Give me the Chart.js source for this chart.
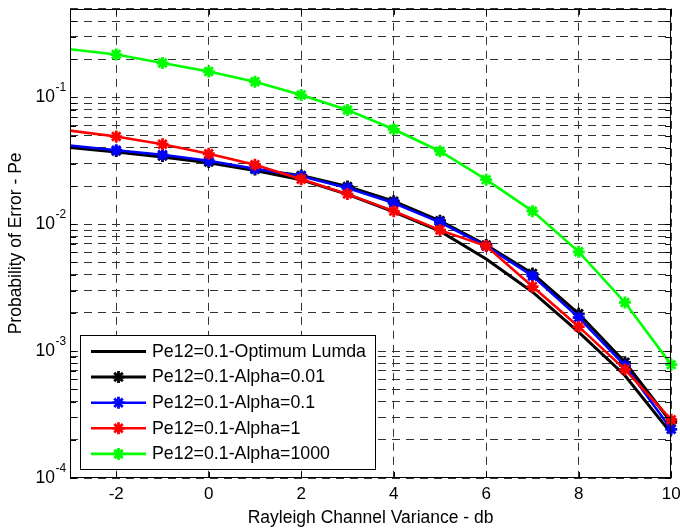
<!DOCTYPE html>
<html><head><meta charset="utf-8">
<script src="https://cdn.jsdelivr.net/npm/chart.js@4/dist/chart.umd.min.js"></script>
<style>html,body{margin:0;padding:0;background:#fff}</style>
</head><body>
<canvas id="c" width="680" height="530"></canvas>
<script>
// ---- data ----
const xValues = [-3,-2,-1,0,1,2,3,4,5,6,7,8,9,10];
const peOptimum   = [0.0403,0.0371,0.0340,0.0305,0.0266,0.0224,0.0172,0.01256,0.00883,0.00532,0.00293,0.00141,0.000643,0.000225];
const peAlpha001  = [0.0410,0.0378,0.0345,0.0310,0.0271,0.0243,0.0199,0.0152,0.01067,0.00686,0.00409,0.00197,0.000817,0.000275];
const peAlpha01   = [0.0418,0.0384,0.0353,0.0317,0.0274,0.0239,0.0193,0.0147,0.01037,0.00673,0.00392,0.00184,0.000769,0.000242];
const peAlpha1    = [0.0548,0.0492,0.0428,0.0360,0.0295,0.0227,0.0173,0.0127,0.0090,0.00673,0.00323,0.00156,0.000716,0.000288];
const peAlpha1000 = [0.240,0.218,0.187,0.160,0.133,0.1045,0.0796,0.0561,0.0377,0.0225,0.0127,0.00607,0.00242,0.000783];
const seriesLabels = ['Pe12=0.1-Optimum Lumda','Pe12=0.1-Alpha=0.01','Pe12=0.1-Alpha=0.1','Pe12=0.1-Alpha=1','Pe12=0.1-Alpha=1000'];
const seriesValues = [peOptimum, peAlpha001, peAlpha01, peAlpha1, peAlpha1000];
const seriesColors = ['#000000','#000000','#0000ff','#ff0000','#00ff00'];
const seriesMarkers = [false,true,true,true,true];
const xTickValues = [-2,0,2,4,6,8,10];
const yMajorExps = [-4,-3,-2,-1];
const xMin = -3, xMax = 10, yMin = 1e-4, yMax = 0.5;
const xTitle = 'Rayleigh Channel Variance - db';
const yTitle = 'Probability of Error - Pe';

// grid values for the log axis: 1..9 x each decade up to yMax
const yGridValues = [];
yMajorExps.forEach(e => { for (let k = 1; k <= 9; k++) { const v = k * Math.pow(10, e); if (v <= yMax * 1.0001) yGridValues.push(v); } });

const FONT = '"Liberation Sans", Arial, Helvetica, sans-serif';

function drawStar(ctx, x, y, r, color, lw) {
  ctx.save();
  ctx.strokeStyle = color; ctx.lineWidth = lw; ctx.lineCap = 'butt';
  ctx.beginPath();
  ctx.moveTo(x, y - r); ctx.lineTo(x, y + r);
  ctx.moveTo(x - r, y); ctx.lineTo(x + r, y);
  const d = r * Math.SQRT1_2;
  ctx.moveTo(x - d, y - d); ctx.lineTo(x + d, y + d);
  ctx.moveTo(x - d, y + d); ctx.lineTo(x + d, y - d);
  ctx.stroke();
  ctx.restore();
}

const framePlugin = {
  id: 'frame',
  afterDraw(chart) {
    const ctx = chart.ctx, a = chart.chartArea;
    const xs = chart.scales.x, ys = chart.scales.y;
    ctx.save();
    // axes box
    ctx.strokeStyle = '#000'; ctx.lineWidth = 1;
    ctx.strokeRect(Math.round(a.left) + 0.5, Math.round(a.top) + 0.5, Math.round(a.right - a.left) - 1, Math.round(a.bottom - a.top) - 1);
    // inner ticks
    ctx.beginPath();
    xTickValues.forEach(v => {
      const px = Math.round(xs.getPixelForValue(v)) + 0.5;
      ctx.moveTo(px, a.bottom); ctx.lineTo(px, a.bottom - 6);
      ctx.moveTo(px, a.top); ctx.lineTo(px, a.top + 6);
    });
    yGridValues.forEach(v => {
      const py = Math.round(ys.getPixelForValue(v)) + 0.5;
      ctx.moveTo(a.left, py); ctx.lineTo(a.left + 6, py);
      ctx.moveTo(a.right, py); ctx.lineTo(a.right - 6, py);
    });
    ctx.stroke();
    // x tick labels
    ctx.fillStyle = '#000';
    ctx.font = '17px ' + FONT; ctx.textAlign = 'center'; ctx.textBaseline = 'middle';
    xTickValues.forEach(v => ctx.fillText(String(v), xs.getPixelForValue(v), 494));
    // y tick labels 10^e
    yMajorExps.forEach(e => {
      const py = ys.getPixelForValue(Math.pow(10, e));
      ctx.font = '17.5px ' + FONT; ctx.textAlign = 'right'; ctx.textBaseline = 'middle';
      ctx.fillText('10', 55, py);
      ctx.font = '12px ' + FONT; ctx.textAlign = 'left';
      ctx.fillText(String(e), 55.5, py - 9.5);
    });
    // axis titles
    ctx.font = '17.5px ' + FONT; ctx.textAlign = 'center'; ctx.textBaseline = 'alphabetic';
    ctx.fillText(xTitle, (a.left + a.right) / 2, 523);
    ctx.save();
    ctx.translate(21, (a.top + a.bottom) / 2);
    ctx.rotate(-Math.PI / 2);
    ctx.fillText(yTitle, 0, 0);
    ctx.restore();
    // legend box
    const lx = 80.5, ly = 335.5, lw = 295, lh = 134;
    ctx.fillStyle = '#fff'; ctx.fillRect(lx, ly, lw, lh);
    ctx.strokeStyle = '#000'; ctx.lineWidth = 1; ctx.strokeRect(lx, ly, lw, lh);
    chart.data.datasets.forEach((ds, i) => {
      const ry = 351.5 + i * 25.6;
      ctx.strokeStyle = ds.borderColor; ctx.lineWidth = ds.borderWidth;
      ctx.beginPath(); ctx.moveTo(91, ry); ctx.lineTo(146, ry); ctx.stroke();
      if (seriesMarkers[i]) drawStar(ctx, 118.5, ry, 6, ds.borderColor, 2.8);
      ctx.fillStyle = '#000'; ctx.font = '17.8px ' + FONT; ctx.textAlign = 'left'; ctx.textBaseline = 'middle';
      ctx.fillText(ds.label, 152, ry + 0.5);
    });
    ctx.restore();
  }
};

const datasets = seriesValues.map((vals, i) => ({
  label: seriesLabels[i],
  data: xValues.map((x, j) => ({ x: x, y: vals[j] })),
  borderColor: seriesColors[i],
  backgroundColor: seriesColors[i],
  borderWidth: i < 2 ? 3 : 2.6,
  pointStyle: 'star',
  pointRadius: ctx => (seriesMarkers[i] && ctx.dataIndex > 0) ? 6 : 0,
  pointBorderWidth: 2.8,
  pointBorderColor: seriesColors[i],
  pointBackgroundColor: seriesColors[i],
  pointHoverRadius: 0,
  tension: 0,
  fill: false,
  clip: false,
  order: seriesValues.length - i
}));

new Chart(document.getElementById('c'), {
  type: 'line',
  data: { datasets: datasets },
  options: {
    responsive: false, animation: false, devicePixelRatio: 1,
    layout: { padding: { top: 6, right: 8, left: 0, bottom: 0 } },
    plugins: { legend: { display: false }, tooltip: { enabled: false } },
    scales: {
      x: {
        type: 'linear', min: xMin, max: xMax,
        afterBuildTicks: s => { s.ticks = xTickValues.map(v => ({ value: v })); },
        afterFit: s => { s.height = 52; },
        ticks: { display: false },
        grid: { color: '#333', lineWidth: 1, drawTicks: false },
        border: { display: false, dash: [8, 6] }
      },
      y: {
        type: 'logarithmic', min: yMin, max: yMax,
        afterBuildTicks: s => { s.ticks = yGridValues.map(v => ({ value: v })); },
        afterFit: s => { s.width = 70; },
        ticks: { display: false },
        grid: { color: '#333', lineWidth: 1, drawTicks: false },
        border: { display: false, dash: [8, 6] }
      }
    }
  },
  plugins: [framePlugin]
});
</script>
</body></html>
